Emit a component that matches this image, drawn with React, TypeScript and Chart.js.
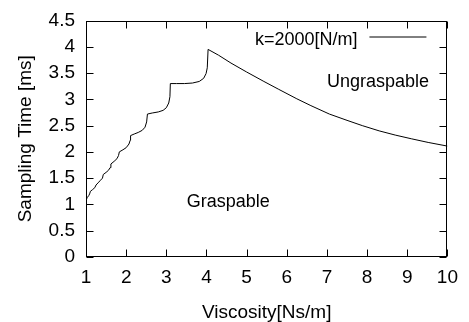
import React, { useEffect, useRef } from "react";
import { Chart, registerables } from "chart.js";

Chart.register(...registerables);

// ---- data ----
const viscosity = [
  1.0, 1.03, 1.07, 1.09, 1.11, 1.16, 1.22, 1.25, 1.3, 1.36, 1.41, 1.43, 1.5, 1.56, 1.6, 1.62,
  1.7, 1.77, 1.81, 1.83, 1.92, 2.0, 2.07, 2.1, 2.11, 2.2, 2.3, 2.4, 2.47, 2.51, 2.53, 2.65,
  2.8, 2.92, 3.0, 3.06, 3.09, 3.1, 3.25, 3.45, 3.65, 3.82, 3.93, 3.99, 4.02, 4.04, 4.3, 4.61,
  5.0, 5.43, 5.8, 6.25, 6.6, 7.06, 7.5, 7.88, 8.3, 8.7, 9.1, 9.52, 10.0,
];
const samplingTime = [
  1.08, 1.13, 1.17, 1.2, 1.25, 1.28, 1.32, 1.37, 1.41, 1.46, 1.5, 1.57, 1.61, 1.65, 1.7, 1.77,
  1.82, 1.87, 1.93, 2.0, 2.04, 2.08, 2.15, 2.22, 2.31, 2.34, 2.37, 2.41, 2.47, 2.57, 2.72, 2.74,
  2.76, 2.79, 2.84, 2.93, 3.05, 3.3, 3.3, 3.3, 3.31, 3.34, 3.4, 3.49, 3.6, 3.95, 3.84, 3.69,
  3.52, 3.34, 3.19, 3.01, 2.88, 2.72, 2.6, 2.5, 2.4, 2.32, 2.25, 2.18, 2.11,
];
const xTicks = [1, 2, 3, 4, 5, 6, 7, 8, 9, 10];
const yTicks = [0, 0.5, 1, 1.5, 2, 2.5, 3, 3.5, 4, 4.5];
const seriesLabel = "k=2000[N/m]";
const xTitle = "Viscosity[Ns/m]";
const yTitle = "Sampling Time [ms]";
const regionLabels = ["Graspable", "Ungraspable"];
const regionX = [4.54, 8.27];
const regionY = [1.04, 3.32];

const FONT = "'Liberation Sans', Arial, Helvetica, sans-serif";

const framePlugin = {
  id: "gnuFrame",
  afterDatasetsDraw(chart: any) {
    const { ctx, chartArea: a, scales } = chart;
    const sx = scales.x;
    const sy = scales.y;
    ctx.save();
    ctx.strokeStyle = "#000";
    ctx.lineWidth = 1;
    const L = Math.round(a.left) + 0.5;
    const R = Math.round(a.right) - 0.5;
    const T = Math.round(a.top) + 0.5;
    const B = Math.round(a.bottom) - 0.5;
    ctx.strokeRect(L, T, R - L, B - T);
    const tl = 7;
    ctx.beginPath();
    for (const v of xTicks) {
      const px = Math.round(sx.getPixelForValue(v)) + 0.5;
      ctx.moveTo(px, B);
      ctx.lineTo(px, B - tl);
      ctx.moveTo(px, T);
      ctx.lineTo(px, T + tl);
    }
    for (const v of yTicks) {
      const py = Math.round(sy.getPixelForValue(v)) + 0.5;
      ctx.moveTo(L, py);
      ctx.lineTo(L + tl, py);
      ctx.moveTo(R, py);
      ctx.lineTo(R - tl, py);
    }
    ctx.stroke();

    // region labels
    ctx.fillStyle = "#000";
    ctx.font = `18px ${FONT}`;
    ctx.textAlign = "center";
    ctx.textBaseline = "middle";
    regionLabels.forEach((t, i) => {
      ctx.fillText(t, sx.getPixelForValue(regionX[i]), sy.getPixelForValue(regionY[i]));
    });

    // key (gnuplot style: text, then sample line)
    const ds = chart.data.datasets[0];
    ctx.font = `18px ${FONT}`;
    ctx.textAlign = "right";
    ctx.textBaseline = "alphabetic";
    ctx.fillText(ds.label, a.right - 90, a.top + 24);
    ctx.beginPath();
    ctx.moveTo(a.right - 78, a.top + 16.5);
    ctx.lineTo(a.right - 21, a.top + 16.5);
    ctx.stroke();
    ctx.restore();
  },
};

export default function App() {
  const ref = useRef<HTMLCanvasElement>(null);
  useEffect(() => {
    if (!ref.current) return;
    const chart = new Chart(ref.current, {
      type: "line",
      data: {
        datasets: [
          {
            label: seriesLabel,
            data: viscosity.map((x, i) => ({ x, y: samplingTime[i] })),
            borderColor: "#000",
            borderWidth: 1,
            pointRadius: 0,
            tension: 0,
            fill: false,
          },
        ],
      },
      options: {
        animation: false,
        responsive: true,
        maintainAspectRatio: false,
        layout: { padding: { top: 10, right: 16, left: 0, bottom: 0 } },
        plugins: { legend: { display: false }, tooltip: { enabled: false } },
        scales: {
          x: {
            type: "linear",
            min: 1,
            max: 10,
            afterBuildTicks: (s: any) => {
              s.ticks = xTicks.map((v) => ({ value: v }));
            },
            afterFit: (s: any) => {
              s.height = 65;
            },
            grid: { display: false, drawTicks: false },
            border: { display: false },
            ticks: {
              color: "#000",
              padding: 11,
              maxRotation: 0,
              autoSkip: false,
              callback: (v: any) => String(v),
              font: { family: FONT, size: 19, lineHeight: 1 },
            },
            title: {
              display: true,
              text: xTitle,
              color: "#000",
              padding: { top: 0, bottom: 0 },
              font: { family: FONT, size: 19, lineHeight: 1 },
            },
          },
          y: {
            type: "linear",
            min: 0,
            max: 4.5,
            afterBuildTicks: (s: any) => {
              s.ticks = yTicks.map((v) => ({ value: v }));
            },
            afterFit: (s: any) => {
              s.width = 86;
            },
            grid: { display: false, drawTicks: false },
            border: { display: false },
            ticks: {
              color: "#000",
              padding: 11,
              autoSkip: false,
              callback: (v: any) => String(v),
              font: { family: FONT, size: 19, lineHeight: 1 },
            },
            title: {
              display: true,
              text: yTitle,
              color: "#000",
              padding: { top: 16, bottom: 0 },
              font: { family: FONT, size: 19, lineHeight: 1 },
            },
          },
        },
      },
      plugins: [framePlugin],
    });
    return () => chart.destroy();
  }, []);
  return (
    <div style={{ position: "absolute", left: 0, top: 0, width: 469, height: 322, background: "#fff" }}>
      <canvas ref={ref} />
    </div>
  );
}
